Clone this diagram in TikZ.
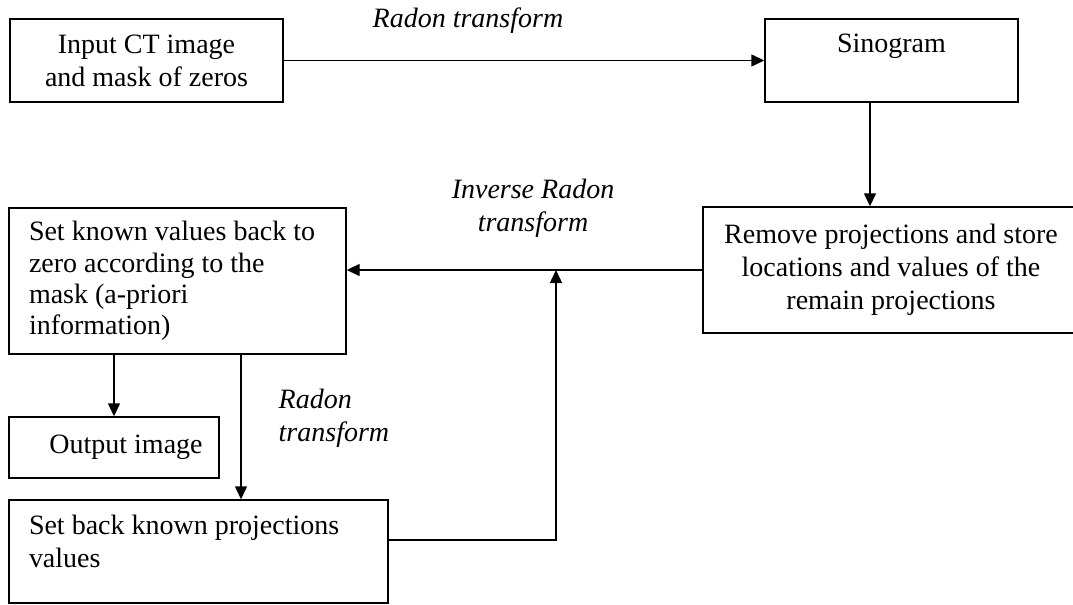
\documentclass[tikz,border=0pt]{standalone}
\usepackage{fontspec}
\setmainfont{Liberation Serif}
\usetikzlibrary{arrows.meta}

\tikzset{
    block/.style={draw, inner sep=0pt, font=\fontsize{14}{16.5}\selectfont},
    leftblock/.style={block, align=flush left, inner xsep=10pt},
    lbl/.style={inner sep=0pt, font=\fontsize{14}{16.5}\selectfont\itshape}
}

\begin{document}
\begin{tikzpicture}[x=0.5pt, y=-0.5pt, line width=0.7pt, >={Triangle[length=6.5pt, width=6pt]}]
    \useasboundingbox (0, 0) rectangle (1073, 605);
    \clip (0, 0) rectangle (1073, 605);
    \node[block, align=center, minimum width=136.5pt, minimum height=41.5pt] (input) at (146.5, 60.5) {Input CT image\\and mask of zeros};
    \node[block, minimum width=126.5pt, minimum height=41.5pt, text depth=17pt] (sino) at (891.5, 60.5) {Sinogram};
    \node[block, align=center, minimum width=188pt, minimum height=63pt] (remove) at (891, 270) {Remove projections and store\\locations and values of the\\remain projections};
    \node[leftblock, text width=148.5pt, minimum height=73pt, font=\fontsize{14}{15.7}\selectfont] (known) at (177.5, 281) {Set known values back to\\zero according to the\\mask (a-priori\\information)};
    \node[block, minimum width=105pt, minimum height=30.5pt] (out) at (114, 447.5) {\hspace*{12pt}Output image};
    \node[leftblock, text width=169.5pt, minimum height=51.5pt, text depth=27pt] (back) at (198.5, 551.5) {Set back known projections\\values};
    \node[lbl] (radon) at (468, 21) {Radon transform};
    \node[lbl, align=center] (inverse) at (533, 208.5) {Inverse Radon\\transform};
    \node[lbl, align=left, anchor=west] (radonback) at (278, 418) {Radon\\transform};
    \coordinate (feed) at (556, 540);
    \draw[->] (input) -- (sino);
    \draw[->] (sino.south -| 870, 0) -- (remove.north -| 870, 0);
    \draw[->] (remove.west) -- (remove.west -| known.east);
    \draw[->] (known.south -| out.north) -- (out.north);
    \draw[->] (known.south -| 241, 0) -- (back.north -| 241, 0);
    \draw[->] (back.east |- feed) -- (feed) -- (feed |- remove.west);
\end{tikzpicture}
\end{document}
